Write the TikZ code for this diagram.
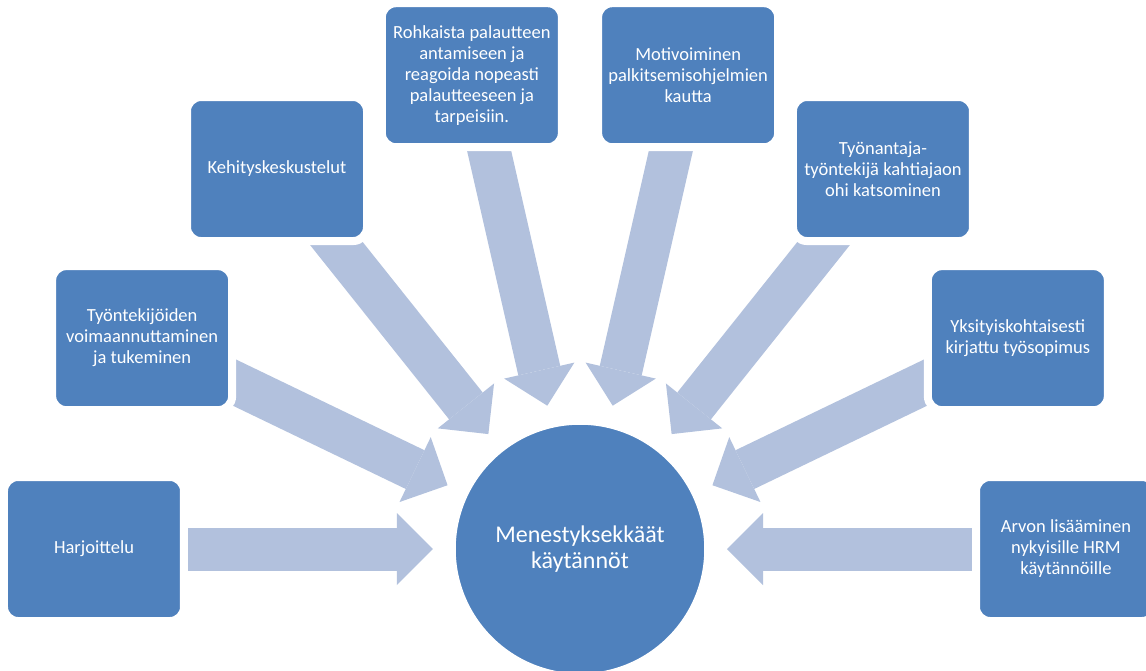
\documentclass[tikz,border=0pt]{standalone}
\usepackage{fontspec}
\setmainfont{Carlito}
\usetikzlibrary{calc,arrows.meta,backgrounds}
\definecolor{boxblue}{HTML}{4F81BD}
\definecolor{arrowblue}{HTML}{B2C1DD}

\begin{document}
\begin{tikzpicture}[x=1pt,y=1pt,
  box/.style={draw=white,line width=8pt,fill=boxblue,rounded corners=14pt,
    minimum width=180pt,minimum height=144pt,text=white,align=center,
    font=\fontsize{18.5}{21}\selectfont},
  hubnode/.style={draw=white,line width=1.5pt,fill=boxblue,circle,minimum size=250pt,
    text=white,align=center,font=\fontsize{24}{26}\selectfont},
  blockarrow/.style={arrowblue,line width=43pt,
    -{Triangle[length=36pt,width=72pt,line width=0pt]}}]
\useasboundingbox (-580,-121) rectangle (566,549);

\node[hubnode] (hub) at (0,0) {Menestyksekkäät\\käytännöt};

\node[box] (b_1) at (180:486) {Harjoittelu};
\node[box] (b_2) at (154.286:486) {Työntekijöiden\\voimaannuttaminen\\ja tukeminen};
\node[box] (b_3) at (128.571:486) {Kehityskeskustelut};
\node[box] (b_4) at (102.857:486) {Rohkaista palautteen\\antamiseen ja\\reagoida nopeasti\\palautteeseen ja\\tarpeisiin.};
\node[box] (b_5) at (77.143:486) {Motivoiminen\\palkitsemisohjelmien\\kautta};
\node[box] (b_6) at (51.429:486) {Työnantaja-\\työntekijä kahtiajaon\\ohi katsominen};
\node[box] (b_7) at (25.714:486) {Yksityiskohtaisesti\\kirjattu työsopimus};
\node[box] (b_8) at (0:486) {Arvon lisääminen\\nykyisille HRM\\käytännöille};

\begin{scope}[on background layer]
\fill[white] (-580,-121) rectangle (566,549);
\draw[blockarrow] (b_1.center) -- ($(hub)!147pt!(b_1)$);
\draw[blockarrow] (b_2.center) -- ($(hub)!147pt!(b_2)$);
\draw[blockarrow] (b_3.center) -- ($(hub)!147pt!(b_3)$);
\draw[blockarrow] (b_4.center) -- ($(hub)!147pt!(b_4)$);
\draw[blockarrow] (b_5.center) -- ($(hub)!147pt!(b_5)$);
\draw[blockarrow] (b_6.center) -- ($(hub)!147pt!(b_6)$);
\draw[blockarrow] (b_7.center) -- ($(hub)!147pt!(b_7)$);
\draw[blockarrow] (b_8.center) -- ($(hub)!147pt!(b_8)$);
\end{scope}

\end{tikzpicture}
\end{document}
